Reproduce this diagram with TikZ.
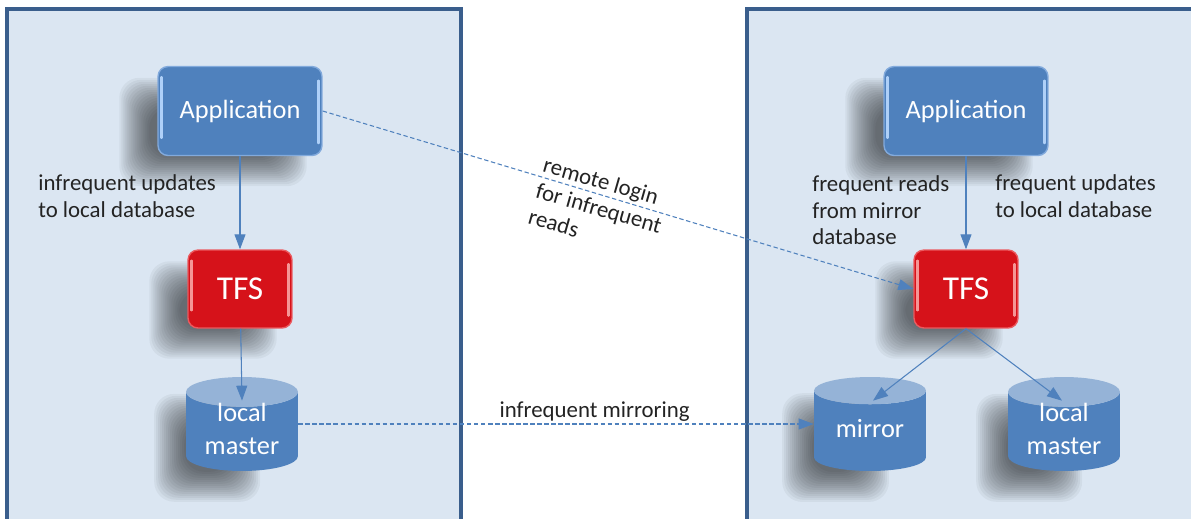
\documentclass[tikz,border=0pt]{standalone}
\usepackage{fontspec}
\setmainfont{Carlito}
\usetikzlibrary{shapes.geometric,arrows.meta,calc}

\definecolor{sitefill}{RGB}{219,230,242}
\definecolor{siteline}{RGB}{58,94,140}
\definecolor{appblue}{RGB}{79,129,189}
\definecolor{appedge}{RGB}{130,170,220}
\definecolor{appgloss}{RGB}{175,208,248}
\definecolor{tfsred}{RGB}{214,18,26}
\definecolor{tfsedge}{RGB}{235,90,95}
\definecolor{tfsgloss}{RGB}{245,150,150}
\definecolor{dbtop}{RGB}{149,179,215}
\definecolor{notetext}{RGB}{35,35,35}

\pgfdeclarelayer{back}
\pgfdeclarelayer{shade}
\pgfsetlayers{back,shade,main}

% database text, set a little low in the drum
\newcommand\dblines[1]{\raisebox{-3.5pt}[8pt][8pt]{\begin{tabular}{@{}c@{}}#1\end{tabular}}}

\begin{document}
\begin{tikzpicture}[x=0.02cm,y=-0.02cm]
% Styles
\tikzset{
  site/.style={line width=1.8pt,draw=siteline},
  shadestep/.style={fill=black,opacity=0.042,rounded corners=0.4cm},
  gloss/.style={path picture={
      \draw[#1,line width=1.2pt,line cap=round]
        ([xshift=2pt,yshift=-6pt]path picture bounding box.north west) --
        ([xshift=2pt,yshift=10pt]path picture bounding box.south west);
      \draw[#1,line width=1.2pt,line cap=round]
        ([xshift=-2pt,yshift=-8pt]path picture bounding box.north east) --
        ([xshift=-2pt,yshift=7pt]path picture bounding box.south east);}},
  appbox/.style={rectangle,rounded corners=0.2cm,fill=appblue,draw=appedge,
      line width=0.8pt,minimum width=3.28cm,minimum height=1.78cm,
      text=white,font=\fontsize{15}{18}\selectfont,gloss=appgloss},
  tfsbox/.style={rectangle,rounded corners=0.2cm,fill=tfsred,draw=tfsedge,
      line width=0.8pt,minimum width=2.08cm,minimum height=1.56cm,
      text=white,font=\fontsize{19}{22}\selectfont,gloss=tfsgloss},
  dbase/.style={cylinder,shape border rotate=90,aspect=0.4,anchor=shape center,
      cylinder uses custom fill,cylinder body fill=appblue,cylinder end fill=dbtop,
      minimum width=2.24cm,minimum height=1.88cm,inner sep=0pt,
      text=white,font=\fontsize{15}{18.7}\selectfont},
  note/.style={inner sep=0pt,align=left,text=notetext,
      font=\fontsize{13}{15.3}\selectfont},
  link/.style={draw=appblue,line width=0.6pt,-{Triangle[length=0.3cm,width=0.22cm]}},
  remote/.style={link,dash pattern=on 2.5pt off 1.5pt}
}
\useasboundingbox (0,0) rectangle (1191,518);
% the two sites
\begin{pgfonlayer}{back}
\fill[white] (0,0) rectangle (1191,518);
\fill[sitefill] (7,9) rectangle (461,530);
\draw[site] (7,530) -- (7,9) -- (461,9) -- (461,530);
\fill[sitefill] (747,9) rectangle (1200,530);
\draw[site] (747,530) -- (747,9) -- (1200,9);
\end{pgfonlayer}

% left site
\node[appbox] (appL) at (240,111) {Application};
\node[tfsbox] (tfsL) at (240,289) {TFS};
\node[dbase] (lmL) at (242,424) {\dblines{local\\master}};
% right site
\node[appbox] (appR) at (966,111) {Application};
\node[tfsbox] (tfsR) at (966,289) {TFS};
\node[dbase] (mir) at (870,424) {\dblines{mirror}};
\node[dbase] (lmR) at (1064,424) {\dblines{local\\master}};

% soft shadows
\begin{pgfonlayer}{shade}
\foreach \n in {appL,tfsL,appR,tfsR} {
  \foreach \k in {0,...,15} {
    \fill[shadestep] ($(\n.north west)+(-38+2*\k,12+2*\k)$)
      rectangle ($(\n.south east)+(-16-2*\k,30-2*\k)$);
  }
}
\foreach \n in {lmL,mir,lmR} {
  \foreach \k in {0,...,15} {
    \fill[shadestep] ($(\n.north west)+(-40+2*\k,10+2*\k)$)
      rectangle ($(\n.south east)+(-18-2*\k,34-2*\k)$);
  }
}
\end{pgfonlayer}

% the labels
\node[note,anchor=north west] (updL) at (38,174) {infrequent updates\\to local database};
\node[note,anchor=north west] (readR) at (812,175) {frequent reads\\from mirror\\database};
\node[note,anchor=north west] (updR) at (995,174) {frequent updates\\to local database};
\node[note,rotate=-16] (login) at (599,208) {remote login\\for infrequent\\reads};

% connectors
\draw[link] (appL) -- (tfsL);
\draw[link] (tfsL) -- ($(lmL.north)+(0,24)$);
\draw[link] (appR) -- (tfsR);
\draw[link] (tfsR.south) -- ($(mir.north)+(3,24)$);
\draw[link] (tfsR.south) -- ($(lmR.north)+(-2,24)$);
\draw[remote] (appL.east) -- (tfsR.west);
\draw[remote] (lmL.shape center -| lmL.east) -- (mir.shape center -| mir.west)
  node[note,pos=0.575,above=1pt] (mirlbl) {infrequent mirroring};
\end{tikzpicture}
\end{document}
